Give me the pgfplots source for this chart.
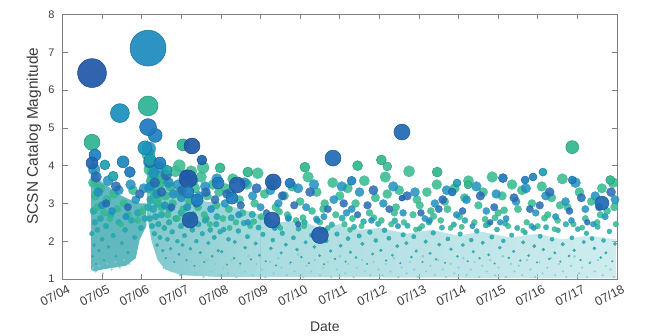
\documentclass[border=0pt]{standalone}
\usepackage{fontspec}
\setmainfont{Liberation Sans}
\usepackage{pgfplots}
\pgfplotsset{compat=1.18}
\definecolor{cC}{RGB}{128,206,212}
\definecolor{cT}{RGB}{36,166,170}
\definecolor{cG}{RGB}{52,184,142}
\definecolor{cB}{RGB}{30,144,190}
\definecolor{cD}{RGB}{38,104,178}
\definecolor{fA}{RGB}{44,162,170}
\definecolor{fB}{RGB}{112,196,202}
\definecolor{fC}{RGB}{175,224,228}
\definecolor{boxgray}{RGB}{128,128,128}
\definecolor{txt}{RGB}{60,60,60}
\pgfplotsset{colormap={quake}{rgb255=(33,88,168) rgb255=(31,122,192) rgb255=(26,150,188) rgb255=(33,170,168) rgb255=(50,184,142) rgb255=(128,206,212)}}
\pgfplotsset{bulk/.style={scatter, only marks, mark=*, color=#1,
  mark options={draw=#1, fill=#1, fill opacity=0.85, draw opacity=0.85, line width=0.3pt},
  visualization depends on={\thisrow{y} \as \yy},
  scatter/@pre marker code/.code={\pgfmathsetmacro\ms{max(0.9,2*(\yy-1))}\begingroup\pgfsetplotmarksize{\ms pt}},
  scatter/@post marker code/.code={\endgroup}}}
\begin{document}
\begin{tikzpicture}
\begin{axis}[
  at={(0,0)}, anchor=south west,
  scale only axis, width=554.5bp, height=264.5bp,
  xmin=0, xmax=14, ymin=1, ymax=8,
  xtick={0,1,...,14},
  xticklabels={07/04,07/05,07/06,07/07,07/08,07/09,07/10,07/11,07/12,07/13,07/14,07/15,07/16,07/17,07/18},
  ytick={1,2,...,8},
  xtick pos=both, ytick pos=both,
  tick align=inside, major tick length=5bp,
  axis line style={boxgray, line width=0.6pt},
  tick style={boxgray, line width=0.6pt},
  /pgf/number format/assume math mode=true,
  yticklabel style={font=\fontsize{11}{12}\selectfont, text=txt, xshift=-4.5bp},
  xticklabel style={font=\fontsize{12.5}{14}\selectfont, text=txt, rotate=27, anchor=north east, xshift=5bp, yshift=-3bp},
  xlabel={Date}, ylabel={SCSN Catalog Magnitude},
  xlabel style={font=\fontsize{14}{16}\selectfont, text=txt, at={(axis description cs:0.473,-0.181)}, anchor=center},
  ylabel style={font=\fontsize{15.5}{17}\selectfont, text=txt, at={(axis description cs:-0.0514,0.54)}, anchor=center, rotate=0},
  colormap name=quake, point meta min=0, point meta max=5,
]
% envelopes of the densest parts of the cloud
\addplot[draw=none, fill=fA, fill opacity=0.75] coordinates {(0.72,1.25)(0.72,4.1)(0.76,4.35)(0.82,3.95)(0.95,3.6)(1.15,3.45)(1.4,3.25)(1.7,3.1)(1.95,3.0)(2.12,3.0)(2.12,2.4)(1.95,2.05)(1.85,1.55)(1.6,1.35)(1.3,1.3)(1.0,1.25)(0.8,1.2)};
\addplot[draw=none, left color=fA, right color=fB, fill opacity=0.6] coordinates {(2.15,2.6)(2.15,4.7)(2.2,4.3)(2.3,4.0)(2.45,3.7)(2.7,3.55)(3.0,3.3)(3.3,3.25)(3.6,3.05)(4.0,3.0)(4.5,2.85)(5.0,2.7)(5.0,1.05)(4.0,1.05)(3.0,1.1)(2.6,1.25)(2.4,1.5)(2.25,2.0)};
\addplot[draw=none, left color=fB, right color=fC, fill opacity=0.6] coordinates {(4.995,1.05)(4.995,2.7)(5.5,2.5)(6,2.55)(6.5,2.35)(7,2.45)(7.5,2.3)(8,2.35)(8.7,2.2)(9.3,2.3)(10,2.15)(10.6,2.25)(11.3,2.1)(12,2.2)(12.6,2.05)(13.3,2.15)(13.98,2.05)(13.98,1.02)};
% small events, light cyan
\addplot[bulk=cC] table {
x y
0.77 1.3
0.84 1.2
0.93 1.35
1.02 1.15
1.13 1.4
1.24 1.25
1.33 1.45
1.45 1.3
1.56 1.5
1.69 1.4
2.45 1.5
2.55 1.3
2.63 1.6
2.75 1.2
2.84 1.4
2.96 1.1
3.06 1.55
3.15 1.25
3.25 1.45
3.36 1.15
3.46 1.35
3.56 1.05
3.66 1.5
3.76 1.2
3.86 1.4
3.96 1.1
4.06 1.3
4.18 1.15
4.27 1.5
4.39 1.05
4.48 1.35
4.6 1.2
4.69 1.6
4.8 1.1
4.9 1.4
5.04 1.25
5.12 1.05
5.24 1.45
5.33 1.15
5.45 1.55
5.53 1.3
5.66 1.1
5.74 1.4
5.86 1.2
5.95 1.65
6.08 1.05
6.16 1.35
6.28 1.2
6.37 1.5
6.5 1.1
6.58 1.3
6.7 1.45
6.79 1.05
6.92 1.25
7.0 1.6
7.14 1.15
7.22 1.4
7.35 1.05
7.43 1.3
7.56 1.5
7.64 1.2
7.77 1.1
7.85 1.45
7.98 1.25
8.08 1.1
8.16 1.4
8.28 1.2
8.37 1.55
8.48 1.05
8.56 1.3
8.69 1.15
8.77 1.45
8.88 1.25
8.97 1.05
9.1 1.6
9.18 1.2
9.29 1.35
9.4 1.1
9.49 1.5
9.6 1.25
9.68 1.05
9.8 1.4
9.89 1.15
10.0 1.3
10.12 1.55
10.2 1.1
10.31 1.25
10.4 1.45
10.52 1.05
10.6 1.35
10.71 1.2
10.8 1.5
10.92 1.1
11.01 1.3
11.12 1.6
11.2 1.05
11.32 1.4
11.41 1.2
11.52 1.35
11.61 1.1
11.73 1.5
11.82 1.25
11.93 1.05
12.04 1.45
12.12 1.15
12.24 1.3
12.33 1.55
12.44 1.1
12.53 1.4
12.64 1.2
12.72 1.05
12.84 1.35
12.93 1.6
13.04 1.15
13.12 1.3
13.24 1.05
13.33 1.45
13.44 1.2
13.52 1.5
13.64 1.1
13.72 1.35
13.84 1.25
13.92 1.05
};
% small events, teal
\addplot[bulk=cT] table {
x y
0.74 2.2
0.76 1.6
0.78 2.8
0.8 1.9
0.82 2.5
0.85 1.4
0.88 2.3
0.92 1.75
0.96 2.6
1.0 2.05
1.05 1.5
1.1 2.4
1.16 1.85
1.22 2.7
1.28 2.15
1.35 1.6
1.42 2.5
1.5 1.95
1.58 2.3
1.65 1.7
1.74 2.55
1.82 2.1
1.9 2.75
1.98 2.35
2.08 2.6
2.16 2.9
2.18 3.4
2.2 2.6
2.23 3.1
2.26 2.4
2.29 2.85
2.32 2.2
2.35 2.65
2.39 1.9
2.42 2.45
2.46 2.1
2.5 2.7
2.53 1.75
2.57 2.35
2.61 1.55
2.65 2.05
2.69 2.5
2.73 1.8
2.77 2.25
2.82 1.45
2.86 2.6
2.9 2.0
2.94 1.65
2.99 2.4
3.03 1.9
3.08 2.15
3.13 1.5
3.18 2.55
3.23 1.8
3.28 2.3
3.33 1.35
3.38 2.0
3.43 2.45
3.48 1.7
3.53 2.2
3.58 1.45
3.63 2.6
3.68 1.95
3.73 2.3
3.78 1.6
3.83 2.1
3.88 2.45
3.93 1.75
3.98 2.25
2.4 3.0
2.7 2.85
3.0 2.75
3.3 2.7
3.6 2.55
3.9 2.65
4.02 1.72
4.07 2.31
4.15 1.38
4.19 2.05
4.26 2.62
4.33 1.55
4.35 1.98
4.44 2.27
4.49 1.41
4.58 2.48
4.61 1.83
4.67 2.12
4.76 1.52
4.79 2.71
4.88 1.94
4.95 2.36
4.97 1.63
5.06 2.18
5.13 1.47
5.17 2.57
5.26 1.81
5.31 2.03
5.39 1.36
5.44 2.42
5.52 1.69
5.55 2.21
5.64 1.91
5.71 2.63
5.76 1.44
5.83 2.09
5.92 1.78
5.96 2.33
6.03 1.58
6.11 2.5
6.14 1.97
6.22 1.42
6.29 2.16
6.36 1.85
6.41 2.59
6.49 1.62
6.56 2.28
6.6 1.39
6.66 2.01
6.77 1.74
6.8 2.44
6.88 1.53
6.93 2.19
7.02 1.88
7.06 2.61
7.15 1.46
7.21 2.07
7.27 1.71
7.36 2.38
7.41 1.57
7.49 2.14
7.57 1.93
7.6 2.52
7.69 1.4
7.76 2.24
7.83 1.66
7.91 2.02
7.97 2.46
8.04 1.76
8.13 2.29
8.17 1.49
8.24 2.08
8.33 1.63
8.39 2.54
8.45 1.87
8.53 1.42
8.6 2.17
8.68 1.95
8.71 2.41
8.81 1.58
8.87 2.12
8.93 1.74
9.01 2.33
9.09 1.45
9.17 1.99
9.25 2.5
9.28 1.68
9.36 2.22
9.43 1.52
9.51 1.91
9.58 2.36
9.66 1.43
9.73 2.06
9.81 1.79
9.88 2.44
9.97 1.6
10.04 2.19
10.11 1.9
10.16 2.55
10.23 1.47
10.32 2.03
10.37 1.72
10.46 2.27
10.53 1.55
10.61 1.96
10.69 2.42
10.76 1.64
10.84 2.11
10.91 1.41
10.97 2.31
11.04 1.83
11.13 2.01
11.18 2.47
11.27 1.56
11.34 2.16
11.39 1.73
11.48 2.35
11.56 1.49
11.63 1.97
11.68 2.23
11.77 1.62
11.84 2.4
11.91 1.87
11.98 1.44
12.06 2.13
12.14 1.78
12.21 2.37
12.29 1.53
12.36 2.05
12.43 1.69
12.51 2.29
12.57 1.46
12.63 1.92
12.71 2.45
12.79 1.61
12.86 2.09
12.92 1.76
13.01 2.32
13.08 1.5
13.16 1.98
13.23 2.21
13.31 1.42
13.37 2.07
13.43 1.81
13.51 2.38
13.59 1.57
13.66 2.02
13.72 1.69
13.81 2.26
13.88 1.47
13.95 1.93
};
% green events
\addplot[bulk=cG] table {
x y
0.78 3.55
0.83 3.2
0.88 2.9
0.95 3.4
1.05 2.75
1.12 3.1
1.2 2.6
1.3 3.25
1.38 2.85
1.47 2.45
1.55 3.0
1.66 2.7
1.78 3.35
1.9 2.55
2.02 2.8
2.17 4.3
2.2 3.9
2.24 3.6
2.28 4.05
2.31 3.3
2.36 3.75
2.4 3.1
2.45 3.5
2.5 2.9
2.55 3.65
2.6 3.2
2.66 2.7
2.72 3.45
2.78 3.0
2.85 3.85
2.9 2.6
2.97 3.3
3.05 2.85
3.12 3.6
3.2 3.05
3.27 2.55
3.35 3.4
3.42 2.9
3.5 3.7
3.58 2.7
3.65 3.2
3.72 2.45
3.8 3.5
3.88 2.95
3.95 3.3
3.55 3.95
2.95 4.0
3.25 3.85
4.05 2.6
4.12 3.4
4.2 2.85
4.3 3.65
4.38 2.5
4.47 3.1
4.55 2.75
4.66 3.5
4.74 2.4
4.85 3.0
4.93 3.8
5.02 2.65
5.1 3.25
5.2 2.5
5.3 3.55
5.38 2.9
5.5 2.35
5.6 3.2
5.68 2.7
5.8 3.45
5.9 2.55
6.0 3.05
6.1 2.4
6.2 3.7
6.3 2.8
6.42 3.3
6.5 2.5
6.62 3.0
6.7 2.35
6.82 3.55
6.9 2.7
7.0 3.2
7.12 2.45
7.2 3.4
7.32 2.6
7.4 3.0
7.55 2.4
7.62 3.6
7.75 2.75
7.9 3.15
8.05 2.55
8.15 3.7
8.2 3.25
8.3 2.45
8.42 2.9
8.5 3.35
8.62 2.5
8.75 3.85
8.85 2.7
8.95 3.1
9.08 2.4
9.2 3.3
9.3 2.8
9.45 3.5
9.55 2.55
9.65 3.05
9.8 2.35
9.9 3.4
10.02 2.65
10.15 3.15
10.25 3.6
10.4 2.5
10.5 2.95
10.62 3.3
10.75 2.45
10.85 3.7
11.0 2.75
11.1 3.2
11.25 2.4
11.35 3.5
11.5 2.85
11.6 3.35
11.72 2.5
11.85 3.0
12.0 2.4
12.1 3.45
12.25 2.7
12.35 3.15
12.5 2.55
12.62 3.65
12.75 2.9
12.9 2.45
13.05 3.3
13.2 2.6
13.35 3.05
13.5 2.5
13.62 3.4
13.75 2.8
13.9 3.55
13.97 2.45
4.22 2.35
4.83 2.52
5.47 2.78
6.07 2.62
6.58 2.85
7.26 2.3
7.86 2.62
8.38 2.75
8.92 2.31
9.37 2.66
9.72 2.85
10.08 2.38
10.67 2.58
11.15 2.82
11.63 2.28
12.17 2.61
12.56 2.95
13.12 2.36
13.58 2.7
13.93 2.9
9.02 2.95
10.92 2.62
12.42 2.32
};
% blue-teal events
\addplot[bulk=cB] table {
x y
0.8 3.9
0.9 3.3
1.0 2.95
1.15 3.6
1.25 2.8
1.42 3.35
1.6 2.65
1.72 3.5
1.85 3.1
2.05 3.4
2.18 4.45
2.22 3.45
2.3 3.8
2.38 3.25
2.47 3.95
2.58 2.95
2.68 3.55
2.8 3.25
2.92 3.5
3.0 3.15
3.15 2.9
3.3 3.6
3.45 3.2
3.6 3.45
3.75 2.85
3.9 3.65
4.1 3.0
4.25 3.3
4.45 2.7
4.6 3.55
4.8 3.2
5.0 2.9
5.25 3.35
5.45 3.0
5.7 2.6
5.95 3.4
6.15 2.9
6.35 3.5
6.6 2.65
6.85 3.1
7.05 3.45
7.3 2.85
7.5 3.3
7.8 2.55
8.1 3.0
8.35 3.45
8.6 2.75
8.9 3.3
9.15 2.6
9.4 3.0
9.7 3.35
9.95 2.7
10.2 3.1
10.45 3.45
10.7 2.8
10.95 3.25
11.2 2.6
11.45 3.05
11.7 3.4
11.95 2.75
12.2 3.2
12.45 2.65
12.7 3.05
12.95 3.55
13.2 2.85
13.45 3.2
13.7 2.65
13.95 3.1
4.68 2.5
5.36 2.35
6.43 2.55
7.17 2.75
8.47 2.4
9.27 2.55
10.35 2.4
11.05 2.5
11.9 2.35
12.85 2.55
13.4 2.45
};
% blue events
\addplot[bulk=cD] table {
x y
0.85 3.7
1.1 3.0
1.35 3.45
1.65 2.9
1.95 3.25
2.2 4.1
2.33 3.55
2.5 3.3
2.62 3.75
2.75 2.9
3.02 3.35
3.1 3.75
3.38 3.0
3.62 3.3
3.85 3.1
4.15 3.25
4.5 2.95
4.9 3.4
5.15 2.75
5.55 3.2
5.85 2.95
6.25 3.3
6.7 2.85
7.1 3.0
7.45 2.7
7.85 3.35
8.25 2.85
8.7 3.2
9.05 2.75
9.6 3.1
10.1 2.8
10.55 3.2
10.9 2.9
11.4 3.15
11.8 2.85
12.3 3.3
12.8 2.8
13.1 3.15
13.55 2.9
13.85 3.3
5.95 2.45
7.7 2.95
9.5 2.85
10.8 2.5
12.05 2.95
13.25 2.5
};
% largest events, explicit marker radius s and colour index c
\addplot[scatter, only marks, mark=*, scatter src=explicit,
  visualization depends on={\thisrow{s} \as \ps},
  scatter/@pre marker code/.append style={/tikz/mark size=\ps},
  mark options={fill opacity=0.93, draw opacity=0.95, line width=0.5pt}]
  table[x=x, y=y, meta=c] {
x y s c
0.745 4.62 8 3.8
0.82 4.28 6 1.3
0.745 4.07 6 0.5
1.07 4.02 5 2.5
1.53 4.1 6 1.5
1.7 3.83 5.5 1
1.28 3.72 5 2.8
2.08 4.47 7 2
2.21 4.15 6 2.5
2.46 4.07 6 1.2
2.64 3.88 5 2.8
2.34 4.8 7 1.2
2.16 5.02 8.5 1
2.16 5.58 10 3.7
1.45 5.39 9.5 1.8
3.04 4.55 6 3.8
3.27 4.52 8 0
3.52 4.15 5 0.3
3.17 3.65 9 0
3.98 3.94 5 4
4.68 3.83 5 4
3.22 2.56 8 0.2
3.93 3.54 6 1
4.41 3.49 8 0.3
4.28 3.14 6 1
5.32 3.57 8 0.2
5.29 2.56 8 0.2
5.74 3.54 5 1
3.17 3.3 6 1.2
3.4 3.09 6 1.2
6.83 4.2 8 0.6
6.5 2.16 8.5 0.2
6.12 3.96 5 4
8.05 4.15 5 4
8.2 3.98 4.5 4.2
8.57 4.89 8 0.5
12.87 4.49 6.5 4
9.46 3.83 5 4
13.62 3.01 7 0.5
13.83 3.62 4.5 4
11.12 3.67 4.5 1
11.68 3.62 4 1.2
11.88 3.7 4 1.5
12.13 3.83 4 2.5
12.87 3.62 4 1.2
9.96 3.54 4 2.5
10.24 3.49 4 4
9.84 3.3 4 1
8.57 3.14 3 0.5
7.45 4.0 5 4
7.3 3.6 4.5 1.5
0.745 6.45 14.5 0
2.16 7.11 18 1.6
};
\end{axis}
\pgfresetboundingbox
\path[use as bounding box] (-62.5bp,-57bp) rectangle (593.5bp,279bp);
\end{tikzpicture}
\end{document}
